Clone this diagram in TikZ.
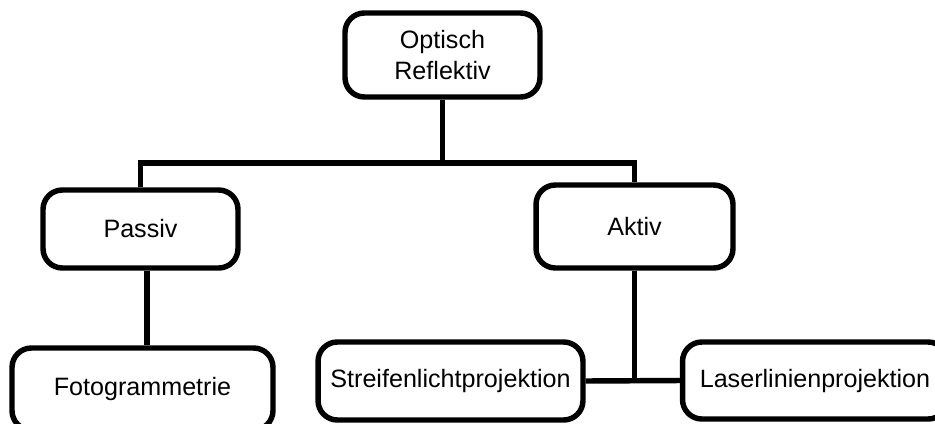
\documentclass[tikz,border=0pt]{standalone}
\usepackage{fontspec}
\setmainfont{Liberation Sans}
\usetikzlibrary{positioning}
\tikzset{
  item/.style={draw, rectangle, rounded corners=11pt, align=center, line width=3.1pt, font=\fontsize{14.3}{17.6}\selectfont},
  link/.style={line width=3.1pt}
}

\begin{document}
\begin{tikzpicture}[x=0.02cm, y=-0.02cm]
    \clip (0,0) rectangle (935,423);
    \useasboundingbox (0,0) rectangle (935,423);
    % nodes
    \node (Optisch)  [item, minimum width=3.9cm, minimum height=1.68cm] at (442.5,55) {Optisch\\Reflektiv};
    \node (Passiv)   [item, minimum width=3.9cm, minimum height=1.56cm] at (140.5,229) {Passiv};
    \node (Aktiv)    [item, minimum width=3.94cm, minimum height=1.66cm] at (634.5,226.5) {Aktiv};
    \node (Foto)     [item, minimum width=5.22cm, minimum height=1.64cm] at (142.5,389) {Fotogrammetrie};
    \node (Streifen) [item, minimum width=5.3cm, minimum height=1.56cm] at (450.5,381) {Streifenlichtprojektion};
    \node (Laser)    [item, minimum width=5.3cm, minimum height=1.54cm] at (815,380.5) {Laserlinienprojektion};
    % lines
    \coordinate (Knick) at (Optisch.south |- 0,163);
    \draw [link] (Optisch.south) -- (Knick);
    \draw [link] (Passiv.north) |- (Knick) -| (Aktiv.north);
    \draw [link] ([xshift=0.13cm]Passiv.south) -- ([xshift=0.13cm]Passiv.south |- Foto.north);
    \draw [link] (Streifen.east) -- (Laser.west);
    \draw [link] (Aktiv.south) -- (Aktiv.south |- Laser.west);
\end{tikzpicture}
\end{document}
